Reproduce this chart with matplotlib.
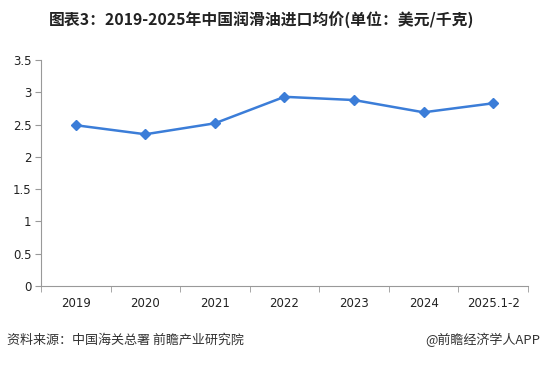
import matplotlib
matplotlib.use("Agg")
import matplotlib.pyplot as plt

plt.rcParams['font.family'] = ['Noto Sans CJK SC', 'DejaVu Sans']

years = ["2019", "2020", "2021", "2022", "2023", "2024", "2025.1-2"]
prices = [2.49, 2.35, 2.52, 2.93, 2.88, 2.69, 2.83]
yticks = [0, 0.5, 1, 1.5, 2, 2.5, 3, 3.5]
ylabels = ["0", "0.5", "1", "1.5", "2", "2.5", "3", "3.5"]

fig = plt.figure(figsize=(5.42, 3.65), dpi=100)
ax = fig.add_axes([0.0757, 0.2164, 0.8983, 0.6192])

x = list(range(len(years)))
ax.plot(x, prices, color="#3b7dd8", linewidth=1.8, marker="D", markersize=5.5,
        markerfacecolor="#3b7dd8", markeredgecolor="#3b7dd8")

ax.set_xlim(-0.5, len(years) - 0.5)
ax.set_ylim(0, 3.5)
ax.set_yticks(yticks)
ax.set_yticklabels(ylabels, fontsize=8.5, family=['DejaVu Sans'], color="#222222")
ax.set_xticks(x)
ax.set_xticklabels(years, fontsize=8.5, family=['DejaVu Sans'], color="#222222")
ax.set_xticks([i - 0.5 for i in range(len(years) + 1)], minor=True)
ax.tick_params(axis="x", which="major", length=0, pad=8)
ax.tick_params(axis="x", which="minor", length=4, color="#999999")
ax.tick_params(axis="y", length=4, color="#999999", pad=3)

for side in ["top", "right"]:
    ax.spines[side].set_visible(False)
for side in ["left", "bottom"]:
    ax.spines[side].set_color("#999999")

fig.text(0.482, 0.945, "图表3：2019-2025年中国润滑油进口均价(单位：美元/千克)",
         ha="center", va="center", fontsize=11.4, fontweight="bold", color="#222222")
fig.text(0.012, 0.068, "资料来源：中国海关总署 前瞻产业研究院",
         ha="left", va="center", fontsize=9.4, color="#333333")
fig.text(0.997, 0.068, "@前瞻经济学人APP",
         ha="right", va="center", fontsize=9.4, color="#333333")

fig.savefig("out.png", dpi=100)
